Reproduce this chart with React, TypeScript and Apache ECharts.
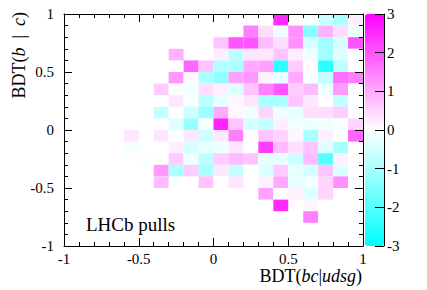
import React, { useEffect, useRef } from "react";
import * as echarts from "echarts";

const N = null;
// bin layout: 20 x 20 bins of width 0.1 spanning [-1, 1] on both axes
const binWidth = 0.1;
const xStart = -1;
const yTopEdge = 1;
// Pull values, rows listed from top (y in [0.9,1.0]) to bottom, columns from x = -1 upward
const row00 = [N, N, N, N, N, N, N, N, N, N, N, N, N, N, 2.5, 0.0, -0.1, -0.6, -1.0, 0.2];
const row01 = [N, N, N, N, N, N, N, N, N, N, N, N, 1.5, 0.4, -0.2, 1.3, -1.4, 0.9, 0.4, -0.2];
const row02 = [N, N, N, N, N, N, N, N, N, N, 0.7, 2.0, 2.0, 0.8, 0.4, 1.3, -0.5, -1.1, -0.5, 2.0];
const row03 = [N, N, N, N, N, N, N, 0.9, N, N, 0.2, -0.8, 0.3, 0.3, 0.7, 0.2, -0.15, -1.1, -0.4, 0.0];
const row04 = [N, N, N, N, N, N, N, N, 1.8, 0.7, -0.9, -1.0, 1.0, 1.1, -2.5, 0.6, 0.05, -2.5, -0.8, 0.0];
const row05 = [N, N, N, N, N, N, N, 1.2, 0.1, -1.0, -1.3, 1.1, 1.2, 0.15, -0.3, 1.0, -0.1, -0.7, 1.7, 1.5];
const row06 = [N, N, N, N, N, N, 0.6, 0.02, -0.15, 0.4, 0.2, -0.4, 0.7, 1.5, 2.0, 0.6, 0.8, -0.2, 1.2, 0.0];
const row07 = [N, N, N, N, N, N, N, 0.3, -0.1, -0.8, -0.3, 0.1, 0.3, -1.0, -1.0, 0.7, 0.3, 0.0, -0.7, N];
const row08 = [N, N, N, N, N, N, -0.7, 0.0, -0.6, -1.2, 1.0, 0.1, -0.15, 0.5, -0.2, -0.3, 0.4, 0.4, 0.6, N];
const row09 = [N, N, N, N, N, -0.05, N, -0.4, -1.2, -0.1, 2.6, 0.7, -0.5, -0.7, 0.2, -0.2, -0.2, -0.15, -0.1, 0.5];
const row10 = [N, N, N, N, 0.3, N, 0.3, -0.1, 0.3, -0.6, 0.3, 1.5, 0.0, 0.7, 0.5, 0.1, -1.0, 0.2, 0.0, 1.8];
const row11 = [N, N, N, N, -0.15, N, 0.0, 0.2, -0.5, -0.3, -0.2, 0.3, 0.0, 2.3, 0.8, 0.4, 0.7, -0.4, -1.0, N];
const row12 = [N, N, N, N, N, -0.03, N, 0.6, -0.2, -0.8, 0.6, 0.8, 0.7, -0.3, -0.3, -0.6, 0.8, -2.0, 0.15, N];
const row13 = [N, N, N, N, N, N, 1.2, -1.0, 0.6, -1.0, 0.3, -0.7, 0.0, -0.4, 0.6, -0.3, -0.5, 0.7, -0.4, N];
const row14 = [N, N, N, N, N, N, 0.8, N, N, 0.7, 0.02, 0.3, N, 0.15, 1.0, -0.3, -0.15, 0.5, 1.3, N];
const row15 = [N, N, N, N, N, N, N, N, N, N, N, N, N, 1.1, 0.0, 0.15, -0.4, 0.5, N, N];
const row16 = [N, N, N, N, N, N, N, N, N, N, N, N, N, N, 2.5, N, 0.1, N, N, N];
const row17 = [N, N, N, N, N, N, N, N, N, N, N, N, N, N, N, N, 1.5, N, N, N];
const row18 = [N, N, N, N, N, N, N, N, N, N, N, N, N, N, N, N, N, N, N, N];
const row19 = [N, N, N, N, N, N, N, N, N, N, N, N, N, N, N, N, N, N, N, N];
const pullRows = [row00, row01, row02, row03, row04, row05, row06, row07, row08, row09,
  row10, row11, row12, row13, row14, row15, row16, row17, row18, row19];

const axisMin = -1;
const axisMax = 1;
const axisInterval = 0.5;
const pullMin = -3;
const pullMax = 3;
const pullInterval = 1;
const paletteColors = ["#00ffff", "#ffffff", "#ff00ff"];

const FONT = "'Liberation Serif', 'Times New Roman', serif";

export default function App() {
  const ref = useRef<HTMLDivElement>(null);
  useEffect(() => {
    if (!ref.current) return;
    const chart = echarts.init(ref.current, undefined, { renderer: "svg" });
    const data: number[][] = [];
    pullRows.forEach((row, j) => {
      row.forEach((v, i) => {
        if (v === null) return;
        const x0 = +(xStart + i * binWidth).toFixed(2);
        const y0 = +(yTopEdge - (j + 1) * binWidth).toFixed(2);
        data.push([x0, y0, v]);
      });
    });
    const frameAxis = (extra: any) => ({
      type: "value",
      min: axisMin,
      max: axisMax,
      interval: axisInterval,
      z: 5,
      axisLine: { show: true, onZero: false, lineStyle: { color: "#000", width: 1 } },
      axisTick: { show: true, inside: true, length: 8, lineStyle: { color: "#000", width: 1 } },
      minorTick: { show: true, splitNumber: 5, length: 4, lineStyle: { color: "#000", width: 1 } },
      splitLine: { show: false },
      minorSplitLine: { show: false },
      ...extra,
    });
    const rich = {
      n: { fontFamily: FONT, fontSize: 18, fill: "#000" },
      i: { fontFamily: FONT, fontSize: 18, fontStyle: "italic", fill: "#000" },
    };
    const option: any = {
      animation: false,
      textStyle: { fontFamily: FONT },
      grid: [
        { left: 64, top: 14, width: 299, height: 232 },
        { left: 384, top: 14, width: 1, height: 232 },
      ],
      xAxis: [
        frameAxis({
          gridIndex: 0,
          position: "bottom",
          axisLabel: {
            color: "#000", fontFamily: FONT, fontSize: 15, margin: 5,
            formatter: (v: number) => String(+v.toFixed(1)),
          },
        }),
        frameAxis({ gridIndex: 0, position: "top", axisLabel: { show: false } }),
        { type: "value", gridIndex: 1, show: false, min: 0, max: 1 },
      ],
      yAxis: [
        frameAxis({
          gridIndex: 0,
          position: "left",
          axisLabel: {
            color: "#000", fontFamily: FONT, fontSize: 15, margin: 10,
            formatter: (v: number) => String(+v.toFixed(1)),
          },
        }),
        frameAxis({ gridIndex: 0, position: "right", axisLabel: { show: false } }),
        {
          type: "value",
          gridIndex: 1,
          position: "left",
          min: pullMin,
          max: pullMax,
          interval: pullInterval,
          z: 10,
          axisLine: { show: true, onZero: false, lineStyle: { color: "#000", width: 1 } },
          axisTick: { show: true, inside: false, length: 9, lineStyle: { color: "#000", width: 1 } },
          axisLabel: { inside: true, margin: 3, color: "#000", fontFamily: FONT, fontSize: 15 },
          splitLine: { show: false },
        },
      ],
      visualMap: {
        type: "continuous",
        min: pullMin,
        max: pullMax,
        dimension: 2,
        seriesIndex: 0,
        calculable: false,
        orient: "vertical",
        left: 365,
        top: 14,
        itemWidth: 19,
        itemHeight: 232,
        padding: 0,
        inRange: { color: paletteColors },
      },
      graphic: [
        {
          type: "text",
          x: 362,
          y: 276,
          style: {
            text: "{n|BDT(}{i|bc}{n||}{i|udsg}{n|)}",
            align: "right",
            verticalAlign: "middle",
            fill: "#000",
            rich,
          },
        },
        {
          type: "text",
          x: 19,
          y: 12,
          rotation: Math.PI / 2,
          style: {
            text: "{n|BDT(}{i|b}{n|  |  }{i|c}{n|)}",
            align: "right",
            verticalAlign: "middle",
            fill: "#000",
            rich,
          },
        },
        {
          type: "text",
          x: 86,
          y: 224,
          z: 20,
          style: {
            text: "LHCb pulls",
            align: "left",
            verticalAlign: "middle",
            fontFamily: FONT,
            fontSize: 19,
            fill: "#000",
          },
        },
      ],
      series: [
        {
          type: "custom",
          xAxisIndex: 0,
          yAxisIndex: 0,
          z: 2,
          encode: { x: 0, y: 1 },
          data,
          renderItem: (params: any, api: any) => {
            const x0 = api.value(0);
            const y0 = api.value(1);
            const p0 = api.coord([x0, y0 + binWidth]);
            const p1 = api.coord([x0 + binWidth, y0]);
            return {
              type: "rect",
              shape: { x: p0[0], y: p0[1], width: p1[0] - p0[0], height: p1[1] - p0[1] },
              style: { fill: api.visual("color"), stroke: null },
            };
          },
        },
      ],
    };
    chart.setOption(option);
    return () => chart.dispose();
  }, []);
  return (
    <div
      ref={ref}
      style={{ position: "fixed", left: 0, top: 0, width: 427, height: 290, background: "#fff" }}
    />
  );
}
